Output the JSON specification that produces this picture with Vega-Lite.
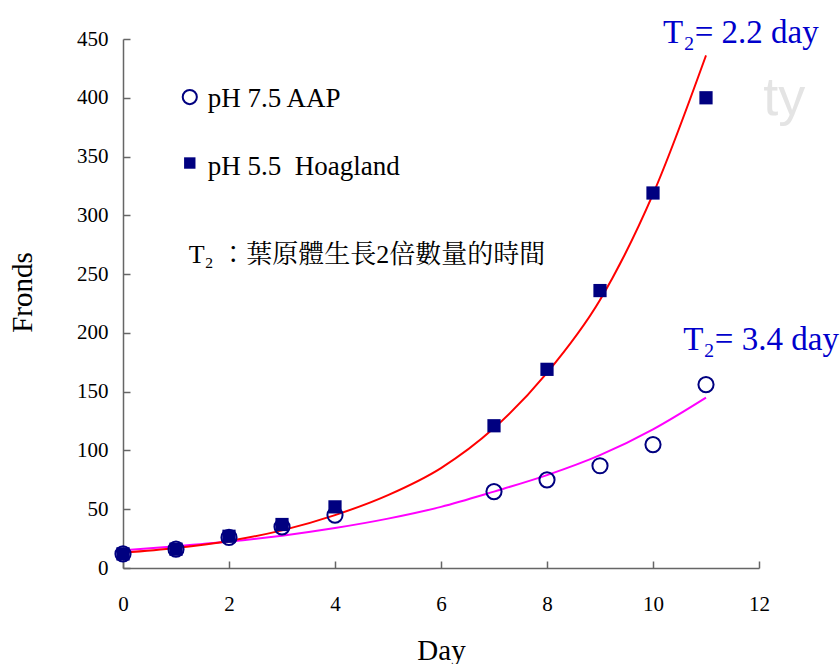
{
  "$schema": "https://vega.github.io/schema/vega-lite/v6.json",
  "width": 636,
  "height": 529,
  "autosize": {"type": "none"},
  "padding": {"left": 123, "top": 39, "right": 81, "bottom": 96},
  "background": "white",
  "config": {
    "view": {"stroke": null},
    "font": "Liberation Serif",
    "axis": {
      "grid": false,
      "labelFlush": false,
      "domainColor": "#666666",
      "tickColor": "#666666",
      "domainWidth": 1.5,
      "tickWidth": 1.5,
      "labelFont": "Liberation Serif",
      "labelFontSize": 21,
      "labelColor": "black",
      "titleFont": "Liberation Serif",
      "titleFontSize": 29,
      "titleFontWeight": "normal",
      "titleColor": "black"
    }
  },
  "datasets": {
    "obs": [
      {"day": 0, "fronds": 12, "medium": "AAP"},
      {"day": 1, "fronds": 16, "medium": "AAP"},
      {"day": 2, "fronds": 26, "medium": "AAP"},
      {"day": 3, "fronds": 35, "medium": "AAP"},
      {"day": 4, "fronds": 45, "medium": "AAP"},
      {"day": 7, "fronds": 65, "medium": "AAP"},
      {"day": 8, "fronds": 75, "medium": "AAP"},
      {"day": 9, "fronds": 87, "medium": "AAP"},
      {"day": 10, "fronds": 105, "medium": "AAP"},
      {"day": 11, "fronds": 156, "medium": "AAP"},
      {"day": 0, "fronds": 12, "medium": "Hoagland"},
      {"day": 1, "fronds": 16, "medium": "Hoagland"},
      {"day": 2, "fronds": 27, "medium": "Hoagland"},
      {"day": 3, "fronds": 37, "medium": "Hoagland"},
      {"day": 4, "fronds": 52, "medium": "Hoagland"},
      {"day": 7, "fronds": 121, "medium": "Hoagland"},
      {"day": 8, "fronds": 169, "medium": "Hoagland"},
      {"day": 9, "fronds": 236, "medium": "Hoagland"},
      {"day": 10, "fronds": 319, "medium": "Hoagland"},
      {"day": 11, "fronds": 400, "medium": "Hoagland"}
    ],
    "fit": [
      {"day": 0, "fronds": 13, "medium": "Hoagland"},
      {"day": 1, "fronds": 17, "medium": "Hoagland"},
      {"day": 2, "fronds": 23, "medium": "Hoagland"},
      {"day": 3, "fronds": 32, "medium": "Hoagland"},
      {"day": 4, "fronds": 45, "medium": "Hoagland"},
      {"day": 5, "fronds": 62, "medium": "Hoagland"},
      {"day": 6, "fronds": 85, "medium": "Hoagland"},
      {"day": 7, "fronds": 119, "medium": "Hoagland"},
      {"day": 8, "fronds": 166, "medium": "Hoagland"},
      {"day": 9, "fronds": 228, "medium": "Hoagland"},
      {"day": 10, "fronds": 318, "medium": "Hoagland"},
      {"day": 11, "fronds": 436, "medium": "Hoagland"},
      {"day": 0, "fronds": 15, "medium": "AAP"},
      {"day": 1, "fronds": 18.5, "medium": "AAP"},
      {"day": 2, "fronds": 22.5, "medium": "AAP"},
      {"day": 3, "fronds": 27.5, "medium": "AAP"},
      {"day": 4, "fronds": 34, "medium": "AAP"},
      {"day": 5, "fronds": 42, "medium": "AAP"},
      {"day": 6, "fronds": 52, "medium": "AAP"},
      {"day": 7, "fronds": 65, "medium": "AAP"},
      {"day": 8, "fronds": 79, "medium": "AAP"},
      {"day": 9, "fronds": 96, "medium": "AAP"},
      {"day": 10, "fronds": 118, "medium": "AAP"},
      {"day": 11, "fronds": 145, "medium": "AAP"}
    ],
    "keys": [
      {"day": 1.26, "fronds": 400.6, "medium": "AAP"},
      {"day": 1.26, "fronds": 344.5, "medium": "Hoagland"}
    ],
    "notes": [
      {"day": 1.6, "fronds": 392, "label": "pH 7.5 AAP", "kind": "legend"},
      {"day": 1.6, "fronds": 334.3, "label": "pH 5.5\u00a0 Hoagland", "kind": "legend"},
      {"day": 1.24, "fronds": 259.4, "label": "T₂ ：葉原體生長2倍數量的時間", "kind": "note"},
      {"day": 10.19, "fronds": 446.6, "label": "T₂= 2.2 day", "kind": "t2"},
      {"day": 10.57, "fronds": 185.4, "label": "T₂= 3.4 day", "kind": "t2"},
      {"day": 12.08, "fronds": 385.3, "label": "ty", "kind": "wm"}
    ]
  },
  "encoding": {
    "x": {
      "field": "day",
      "type": "quantitative",
      "scale": {"domain": [0, 12], "nice": false, "zero": false},
      "axis": {
        "title": "Day",
        "values": [0, 2, 4, 6, 8, 10, 12],
        "tickSize": -7,
        "labelFlush": false,
        "labelFont": "Liberation Serif",
        "labelFontSize": 21,
        "labelPadding": 32,
        "titlePadding": 22
      }
    },
    "y": {
      "field": "fronds",
      "type": "quantitative",
      "scale": {"domain": [0, 450], "nice": false},
      "axis": {
        "title": "Fronds",
        "values": [0, 50, 100, 150, 200, 250, 300, 350, 400, 450],
        "tickSize": -7,
        "labelFlush": false,
        "labelFont": "Liberation Serif",
        "labelFontSize": 21,
        "labelPadding": 22,
        "titleX": -101,
        "titleY": 253,
        "titleAngle": -90,
        "titleAlign": "center",
        "titleBaseline": "middle"
      }
    }
  },
  "layer": [
    {
      "data": {"name": "notes"},
      "transform": [{"filter": "datum.kind === 'wm'"}],
      "mark": {"type": "text", "align": "left", "baseline": "alphabetic", "font": "Liberation Sans", "fontSize": 54, "color": "#e4e4e4", "clip": false},
      "encoding": {"text": {"field": "label"}}
    },
    {
      "data": {"name": "fit"},
      "transform": [{"filter": "datum.medium === 'AAP'"}],
      "mark": {"type": "line", "color": "#FF00FF", "strokeWidth": 2, "interpolate": "monotone", "clip": false},
      "encoding": {}
    },
    {
      "data": {"name": "fit"},
      "transform": [{"filter": "datum.medium === 'Hoagland'"}],
      "mark": {"type": "line", "color": "#FF0000", "strokeWidth": 2, "interpolate": "monotone", "clip": false},
      "encoding": {}
    },
    {
      "data": {"name": "obs"},
      "transform": [{"filter": "datum.medium === 'Hoagland'"}],
      "mark": {"type": "point", "shape": "square", "filled": true, "color": "#000080", "size": 175, "opacity": 1},
      "encoding": {}
    },
    {
      "data": {"name": "obs"},
      "transform": [{"filter": "datum.medium === 'AAP'"}],
      "mark": {"type": "point", "shape": "circle", "filled": false, "color": "#000080", "size": 230, "strokeWidth": 2, "opacity": 1},
      "encoding": {}
    },
    {
      "data": {"name": "keys"},
      "transform": [{"filter": "datum.medium === 'Hoagland'"}],
      "mark": {"type": "point", "shape": "square", "filled": true, "color": "#000080", "size": 130, "opacity": 1},
      "encoding": {}
    },
    {
      "data": {"name": "keys"},
      "transform": [{"filter": "datum.medium === 'AAP'"}],
      "mark": {"type": "point", "shape": "circle", "filled": false, "color": "#000080", "size": 200, "strokeWidth": 2, "opacity": 1},
      "encoding": {}
    },
    {
      "data": {"name": "notes"},
      "transform": [{"filter": "datum.kind === 'legend'"}],
      "mark": {"type": "text", "align": "left", "baseline": "alphabetic", "font": "Liberation Serif", "fontSize": 27, "color": "black"},
      "encoding": {"text": {"field": "label"}}
    },
    {
      "data": {"name": "notes"},
      "transform": [{"filter": "datum.kind === 'note'"}],
      "mark": {"type": "text", "align": "left", "baseline": "alphabetic", "font": "Liberation Serif, Noto Serif CJK TC, Noto Sans CJK TC", "fontSize": 26, "color": "black"},
      "encoding": {"text": {"field": "label"}}
    },
    {
      "data": {"name": "notes"},
      "transform": [{"filter": "datum.kind === 't2'"}],
      "mark": {"type": "text", "align": "left", "baseline": "alphabetic", "font": "Liberation Serif", "fontSize": 33, "color": "#0000CC", "clip": false},
      "encoding": {"text": {"field": "label"}}
    }
  ]
}
